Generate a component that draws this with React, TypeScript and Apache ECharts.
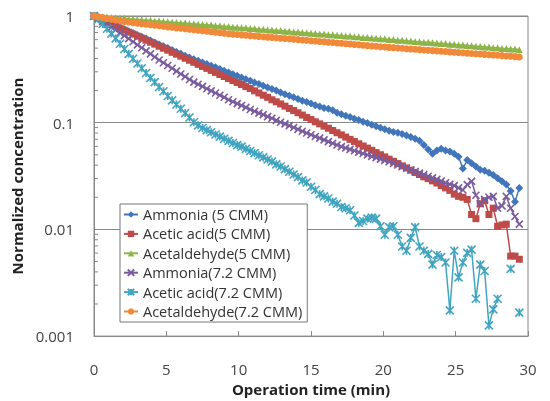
import React, { useEffect, useRef } from "react";
import * as echarts from "echarts";

// sampling step of the measurements (min)
const STEP = 0.3;

const seriesNames = [
  "Ammonia (5 CMM)",
  "Acetic acid(5 CMM)",
  "Acetaldehyde(5 CMM)",
  "Ammonia(7.2 CMM)",
  "Acetic acid(7.2 CMM)",
  "Acetaldehyde(7.2 CMM)",
];

const yTickLabels = ["0.001", "0.01", "0.1", "1"];
const xTicks = [0, 5, 10, 15, 20, 25, 30];

const ammonia5 = [
  1.000, 0.959, 0.923, 0.885, 0.849, 0.815, 0.783, 0.752, 0.721, 0.693,
  0.665, 0.638, 0.614, 0.589, 0.565, 0.542, 0.521, 0.500, 0.480, 0.461,
  0.443, 0.425, 0.408, 0.394, 0.380, 0.367, 0.354, 0.341, 0.330, 0.318,
  0.307, 0.296, 0.285, 0.275, 0.265, 0.256, 0.247, 0.238, 0.230, 0.222,
  0.214, 0.207, 0.200, 0.192, 0.185, 0.179, 0.173, 0.167, 0.161, 0.156,
  0.151, 0.146, 0.142, 0.137, 0.135, 0.131, 0.124, 0.120, 0.116, 0.113,
  0.109, 0.106, 0.102, 0.0991, 0.0959, 0.0927, 0.0897, 0.0869, 0.0841, 0.0820,
  0.0804, 0.0785, 0.0759, 0.0733, 0.0708, 0.0676, 0.0617, 0.0562, 0.0513, 0.0550,
  0.0569, 0.0550, 0.0537, 0.0513, 0.0479, 0.0372, 0.0447, 0.0417, 0.0389, 0.0363,
  0.0355, 0.0339, 0.0324, 0.0302, 0.0282, 0.0263, 0.0229, 0.0182, 0.0245,
];

const aceticAcid5 = [
  1.000, 0.955, 0.912, 0.873, 0.838, 0.802, 0.769, 0.736, 0.705, 0.676,
  0.647, 0.619, 0.593, 0.568, 0.545, 0.521, 0.499, 0.478, 0.457, 0.439,
  0.420, 0.402, 0.385, 0.368, 0.352, 0.337, 0.323, 0.309, 0.296, 0.283,
  0.271, 0.259, 0.248, 0.238, 0.228, 0.218, 0.209, 0.199, 0.190, 0.181,
  0.173, 0.164, 0.157, 0.150, 0.143, 0.136, 0.130, 0.124, 0.118, 0.112,
  0.107, 0.102, 0.0975, 0.0929, 0.0887, 0.0845, 0.0805, 0.0769, 0.0733, 0.0698,
  0.0667, 0.0635, 0.0605, 0.0578, 0.0551, 0.0525, 0.0501, 0.0478, 0.0455, 0.0435,
  0.0414, 0.0394, 0.0377, 0.0359, 0.0342, 0.0327, 0.0311, 0.0299, 0.0285, 0.0272,
  0.0257, 0.0245, 0.0232, 0.0214, 0.0204, 0.0200, 0.0191, 0.0138, 0.0126, 0.0174,
  0.0186, 0.0138, 0.0158, 0.0107, 0.0110, 0.0112, 0.00562, 0.00562, 0.00525,
];

const acetaldehyde5 = [
  1.000, 0.990, 0.984, 0.978, 0.969, 0.965, 0.955, 0.951, 0.940, 0.937,
  0.927, 0.924, 0.913, 0.910, 0.899, 0.897, 0.886, 0.884, 0.872, 0.871,
  0.860, 0.859, 0.847, 0.846, 0.835, 0.834, 0.823, 0.822, 0.810, 0.809,
  0.798, 0.796, 0.786, 0.785, 0.775, 0.774, 0.763, 0.762, 0.752, 0.751,
  0.742, 0.740, 0.730, 0.730, 0.720, 0.719, 0.709, 0.708, 0.699, 0.698,
  0.688, 0.687, 0.679, 0.677, 0.669, 0.667, 0.659, 0.657, 0.650, 0.648,
  0.639, 0.638, 0.630, 0.629, 0.621, 0.620, 0.612, 0.611, 0.603, 0.602,
  0.594, 0.593, 0.585, 0.584, 0.576, 0.575, 0.568, 0.567, 0.560, 0.558,
  0.551, 0.551, 0.544, 0.543, 0.535, 0.534, 0.528, 0.527, 0.520, 0.519,
  0.512, 0.512, 0.505, 0.503, 0.497, 0.496, 0.490, 0.490, 0.482,
];

const ammonia72 = [
  1.000, 0.942, 0.885, 0.834, 0.785, 0.739, 0.695, 0.655, 0.614, 0.574,
  0.537, 0.504, 0.471, 0.442, 0.413, 0.387, 0.365, 0.344, 0.324, 0.304,
  0.286, 0.270, 0.254, 0.240, 0.229, 0.219, 0.208, 0.199, 0.190, 0.181,
  0.173, 0.164, 0.157, 0.151, 0.145, 0.139, 0.133, 0.128, 0.123, 0.119,
  0.114, 0.110, 0.105, 0.101, 0.0975, 0.0938, 0.0902, 0.0865, 0.0832, 0.0800,
  0.0771, 0.0743, 0.0716, 0.0690, 0.0665, 0.0641, 0.0618, 0.0597, 0.0579, 0.0562,
  0.0546, 0.0530, 0.0514, 0.0499, 0.0484, 0.0470, 0.0456, 0.0443, 0.0430, 0.0415,
  0.0401, 0.0387, 0.0374, 0.0361, 0.0349, 0.0337, 0.0326, 0.0315, 0.0304, 0.0294,
  0.0284, 0.0274, 0.0265, 0.0257, 0.0245, 0.0234, 0.0263, 0.0282, 0.0209, 0.0174,
  0.0191, 0.0200, 0.0204, 0.0158, 0.0166, 0.0204, 0.0158, 0.0132, 0.0112,
];

const aceticAcid72: (number | null)[] = [
  1.000, 0.933, 0.841, 0.759, 0.684, 0.617, 0.550, 0.490, 0.442, 0.398,
  0.359, 0.324, 0.292, 0.263, 0.240, 0.216, 0.197, 0.178, 0.162, 0.148,
  0.135, 0.123, 0.112, 0.101, 0.0944, 0.0891, 0.0851, 0.0813, 0.0776, 0.0741,
  0.0708, 0.0676, 0.0646, 0.0617, 0.0596, 0.0569, 0.0543, 0.0519, 0.0495, 0.0473,
  0.0452, 0.0432, 0.0407, 0.0389, 0.0367, 0.0347, 0.0327, 0.0309, 0.0288, 0.0275,
  0.0251, 0.0234, 0.0214, 0.0204, 0.0195, 0.0182, 0.0174, 0.0162, 0.0158, 0.0151,
  0.0135, 0.0115, 0.0120, 0.0126, 0.0129, 0.0126, 0.0107, 0.00891, 0.0105, 0.0107,
  0.00891, 0.00692, 0.00631, 0.00832, 0.0105, 0.00692, 0.00631, 0.00589, 0.00468, 0.00575,
  0.00550, 0.00490, 0.00174, 0.00631, 0.00355, 0.00490, 0.00603, 0.00646, 0.00224, 0.00468,
  0.00407, 0.00126, 0.00178, 0.00224, null, null, 0.00427, null, 0.00166,
];

const acetaldehyde72 = [
  1.000, 0.982, 0.966, 0.948, 0.933, 0.916, 0.902, 0.887, 0.877, 0.867,
  0.857, 0.847, 0.838, 0.828, 0.818, 0.809, 0.800, 0.791, 0.783, 0.774,
  0.767, 0.759, 0.750, 0.743, 0.735, 0.728, 0.720, 0.711, 0.705, 0.697,
  0.689, 0.682, 0.675, 0.670, 0.665, 0.659, 0.655, 0.649, 0.644, 0.640,
  0.634, 0.630, 0.625, 0.619, 0.615, 0.611, 0.605, 0.601, 0.596, 0.592,
  0.586, 0.582, 0.577, 0.573, 0.568, 0.564, 0.558, 0.555, 0.550, 0.546,
  0.541, 0.537, 0.532, 0.528, 0.524, 0.520, 0.515, 0.512, 0.508, 0.505,
  0.501, 0.498, 0.494, 0.491, 0.488, 0.484, 0.481, 0.478, 0.474, 0.471,
  0.468, 0.465, 0.461, 0.458, 0.455, 0.452, 0.449, 0.446, 0.443, 0.440,
  0.437, 0.434, 0.431, 0.428, 0.425, 0.422, 0.419, 0.416, 0.413,
];

const seriesValues = [ammonia5, aceticAcid5, acetaldehyde5, ammonia72, aceticAcid72, acetaldehyde72];
const colors = ["#4276BA", "#BE4B48", "#8DB449", "#7A5C9E", "#41A5C0", "#F08A3A"];
const X_PATH = "path://M0,0L10,10M10,0L0,10";
const STAR_PATH = "path://M0,0L10,10M10,0L0,10M5,0L5,10";
const symbols = ["diamond", "rect", "triangle", X_PATH, STAR_PATH, "circle"];
const symbolSizes = [8, 7, 7, 7, 8, 7];

const FONT = "'Open Sans', 'Noto Sans', sans-serif";

export default function App() {
  const ref = useRef<HTMLDivElement>(null);
  useEffect(() => {
    if (!ref.current) return;
    const chart = echarts.init(ref.current, null, { renderer: "svg" });
    const series = seriesValues.map((vals, k) => {
      const stroked = symbols[k].startsWith("path://");
      return {
        type: "line",
        name: seriesNames[k],
        data: vals.map((v, i) => [Math.round(i * STEP * 10) / 10, v === null ? "-" : v]),
        symbol: symbols[k],
        symbolSize: symbolSizes[k],
        showSymbol: true,
        connectNulls: false,
        lineStyle: { width: 1.5, color: colors[k] },
        itemStyle: stroked
          ? { color: colors[k], borderColor: colors[k], borderWidth: 1.6 }
          : { color: colors[k] },
        emphasis: { disabled: true },
        z: 2 + k,
      };
    });
    chart.setOption({
      animation: false,
      textStyle: { fontFamily: FONT },
      grid: { left: 94, right: 22, top: 16, bottom: 64, show: true, borderColor: "#888", borderWidth: 1 },
      xAxis: {
        type: "value",
        min: xTicks[0],
        max: xTicks[xTicks.length - 1],
        interval: 5,
        axisLine: { lineStyle: { color: "#888", width: 1 } },
        axisTick: { inside: true, length: 5, lineStyle: { color: "#888" } },
        axisLabel: { margin: 25, fontSize: 15, color: "#444", fontFamily: FONT },
        splitLine: { show: false },
        name: "Operation time (min)",
        nameLocation: "middle",
        nameGap: 37,
        nameTextStyle: { fontWeight: "bold", fontSize: 15, color: "#222", fontFamily: FONT },
      },
      yAxis: {
        type: "log",
        logBase: 10,
        min: 0.001,
        max: 1,
        axisLine: { show: true, lineStyle: { color: "#888", width: 1 } },
        axisTick: { show: true, inside: true, length: 5, lineStyle: { color: "#888" } },
        axisLabel: {
          margin: 20,
          fontSize: 15,
          color: "#444",
          fontFamily: FONT,
          formatter: (v: number) => {
            const idx = Math.round(Math.log10(v)) + 3;
            return yTickLabels[idx] ?? String(v);
          },
        },
        splitLine: { show: true, lineStyle: { color: "#888", width: 1 } },
        name: "Normalized concentration",
        nameLocation: "middle",
        nameGap: 61,
        nameTextStyle: { fontWeight: "bold", fontSize: 15, color: "#222", fontFamily: FONT },
      },
      legend: {
        orient: "vertical",
        left: 120,
        top: 204,
        padding: [3, 5, 3, 3],
        backgroundColor: "#fff",
        borderColor: "#777",
        borderWidth: 1,
        borderRadius: 0,
        itemWidth: 14,
        itemHeight: 8,
        itemGap: 4.4,
        textStyle: { fontSize: 14.5, color: "#333", fontFamily: FONT, lineHeight: 14.4 },
        data: seriesNames,
        selectedMode: false,
      },
      series,
    });

    // minor log ticks on the y axis, positioned by the axis scale
    const minor: any[] = [];
    const left = 94;
    for (const base of [0.001, 0.01, 0.1]) {
      for (let m = 2; m <= 9; m++) {
        const y = chart.convertToPixel({ yAxisIndex: 0 }, m * base) as number;
        minor.push({
          type: "line",
          shape: { x1: left, y1: y, x2: left + 4, y2: y },
          style: { stroke: "#888", lineWidth: 1 },
          silent: true,
        });
      }
    }
    chart.setOption({ graphic: minor });
    return () => chart.dispose();
  }, []);
  return <div ref={ref} style={{ position: "fixed", left: 0, top: 0, width: 550, height: 401 }} />;
}
